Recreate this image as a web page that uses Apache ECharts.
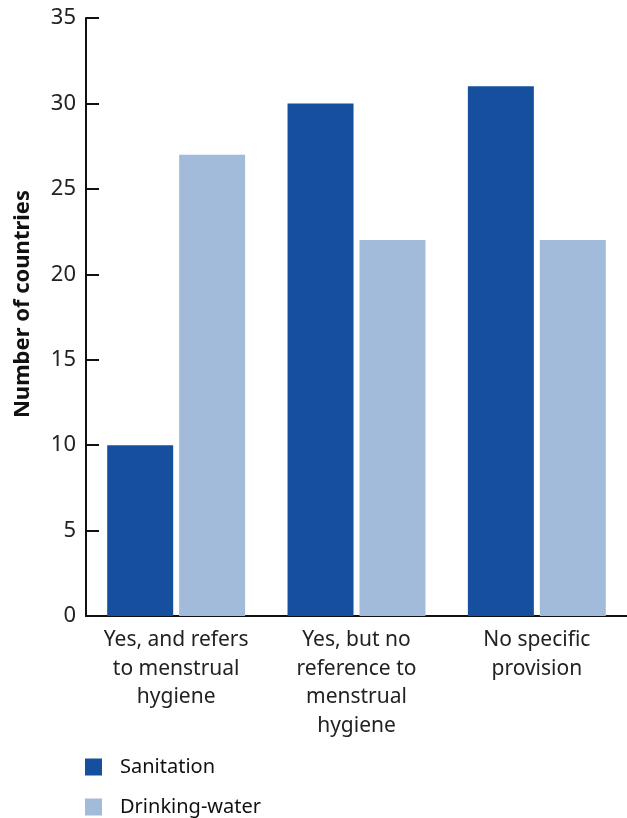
<!DOCTYPE html>
<html><head><meta charset="utf-8">
<script src="https://cdn.jsdelivr.net/npm/echarts@6/dist/echarts.min.js"></script>
<style>html,body{margin:0;padding:0;background:#fff}#c{width:627px;height:818px}</style>
</head><body><div id="c"></div>
<script>
const categories = ['Yes, and refers\nto menstrual\nhygiene', 'Yes, but no\nreference to\nmenstrual\nhygiene', 'No specific\nprovision'];
const sanitation = [10, 30, 31];
const drinkingWater = [27, 22, 22];
const yTicks = [0, 5, 10, 15, 20, 25, 30, 35];

const chart = echarts.init(document.getElementById('c'));
const font = 'Noto Sans';
const legendBase = {
  orient: 'vertical', left: 85, padding: 0,
  itemWidth: 17, itemHeight: 17,
  icon: 'rect',
  textStyle: {fontSize: 20, color: '#111', fontFamily: font, padding: [0,0,0,13]}
};
chart.setOption({
  animation: false,
  textStyle: {fontFamily: font},
  grid: {left: 86, top: 18, bottom: 202, right: -3, containLabel: false},
  legend: [
    Object.assign({}, legendBase, {top: 757, data: ['Sanitation']}),
    Object.assign({}, legendBase, {top: 797, data: ['Drinking-water']})
  ],
  xAxis: {
    type: 'category', data: categories,
    axisLine: {lineStyle: {color: '#111', width: 2}},
    axisTick: {show: false},
    axisLabel: {fontSize: 21, color: '#222', lineHeight: 28.5, margin: 10, interval: 0, fontFamily: font}
  },
  yAxis: {
    type: 'value', min: 0, max: 35, interval: 5,
    name: 'Number of countries', nameLocation: 'middle', nameGap: 52,
    nameTextStyle: {fontSize: 22, fontWeight: 'bold', color: '#111', fontFamily: font, padding: [0, 0, 0, 26]},
    axisLine: {show: true, lineStyle: {color: '#111', width: 2}},
    axisTick: {show: true, inside: true, length: 13, lineStyle: {color: '#111', width: 2}},
    axisLabel: {fontSize: 22, color: '#222', margin: 10, fontFamily: font},
    splitLine: {show: false}
  },
  series: [
    {name: 'Sanitation', type: 'bar', data: sanitation, barWidth: 66, barGap: '9%', itemStyle: {color: '#154f9d'}},
    {name: 'Drinking-water', type: 'bar', data: drinkingWater, barWidth: 66, itemStyle: {color: '#a2bbda'}}
  ]
});
</script></body></html>
